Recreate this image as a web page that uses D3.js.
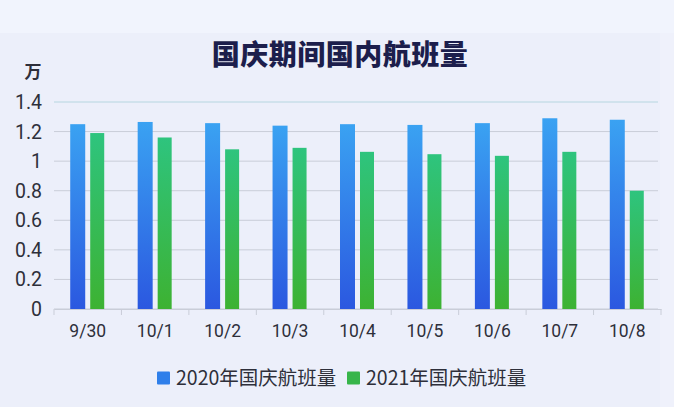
<!DOCTYPE html>
<html><head><meta charset="utf-8">
<script src="https://cdn.jsdelivr.net/npm/d3@7"></script>
<style>
html,body{margin:0;padding:0;background:#eceffa;}
svg{display:block;font-family:"Noto Sans CJK SC","Noto Sans",sans-serif;}
</style></head>
<body><svg id="c" width="674" height="407"></svg>
<script>
const categories = ["9/30","10/1","10/2","10/3","10/4","10/5","10/6","10/7","10/8"];
const values2020 = [1.25,1.265,1.257,1.24,1.25,1.245,1.257,1.29,1.28];
const values2021 = [1.19,1.16,1.08,1.09,1.063,1.047,1.036,1.063,0.80];
const seriesNames = ["2020年国庆航班量","2021年国庆航班量"];
const yTicks = [0,0.2,0.4,0.6,0.8,1,1.2,1.4];

const svg = d3.select("#c");
const W = 674, H = 407;
const m = {left:54, right:13, top:102, bottom:98};
const defs = svg.append("defs");
const g1 = defs.append("linearGradient").attr("id","gb").attr("x1",0).attr("y1",0).attr("x2",0).attr("y2",1);
g1.append("stop").attr("offset","0%").attr("stop-color","#3aa2f2");
g1.append("stop").attr("offset","100%").attr("stop-color","#2b58e0");
const g2 = defs.append("linearGradient").attr("id","gg").attr("x1",0).attr("y1",0).attr("x2",0).attr("y2",1);
g2.append("stop").attr("offset","0%").attr("stop-color","#2ec47e");
g2.append("stop").attr("offset","100%").attr("stop-color","#3db232");

svg.append("rect").attr("width",W).attr("height",H).attr("fill","#eceffa");
svg.append("rect").attr("width",W).attr("height",33).attr("fill","#f1f4fd");
svg.append("rect").attr("x",660).attr("y",33).attr("width",14).attr("height",H-33).attr("fill","#eff1fb");

const x = d3.scaleBand().domain(categories).range([m.left, W - m.right]).paddingInner(0).paddingOuter(0);
const y = d3.scaleLinear().domain([0,1.4]).range([H - m.bottom, m.top]);

// gridlines
svg.append("g").selectAll("line").data(yTicks).join("line")
  .attr("x1", m.left).attr("x2", W - m.right - 3)
  .attr("y1", d => y(d)).attr("y2", d => y(d))
  .attr("stroke", d => d === 1.4 ? "#b6d6e0" : "#c9cdd8").attr("stroke-width",1);

// y labels
svg.append("g").selectAll("text").data(yTicks).join("text")
  .attr("x", 42).attr("y", d => y(d)).attr("dy","0.36em")
  .attr("text-anchor","end").attr("font-size",19.5).attr("fill","#2e2f3a")
  .attr("font-family","Roboto, 'Noto Sans', sans-serif")
  .text(d => d3.format("~g")(d));

svg.append("text").attr("x",33).attr("y",72).attr("dy","0.36em").attr("text-anchor","middle")
  .attr("font-size",17).attr("font-weight","bold").attr("fill","#2e2f3a").text("万");

// x axis
const xAxis = svg.append("g").attr("transform",`translate(0,${y(0)})`)
  .call(d3.axisBottom(x).tickSize(0).tickPadding(16));
xAxis.select(".domain").attr("stroke","#c9cdd8");
xAxis.selectAll(".tick text").attr("font-size",17.5).attr("fill","#2e2f3a")
  .attr("font-family","Roboto, 'Noto Sans', sans-serif");
// band separator ticks
svg.append("g").selectAll("line").data(categories.concat(["_end"])).join("line")
  .attr("x1", (d,i) => m.left + i * x.bandwidth()).attr("x2", (d,i) => m.left + i * x.bandwidth())
  .attr("y1", y(0)).attr("y2", y(0) + 6).attr("stroke","#c9cdd8");

const bw = 15, gap = 5;
const bars = svg.append("g");
bars.selectAll("rect.b").data(categories).join("rect").attr("class","b")
  .attr("x", d => x(d) + x.bandwidth()/2 - gap/2 - bw)
  .attr("width", bw)
  .attr("y", (d,i) => y(values2020[i]))
  .attr("height", (d,i) => y(0) - y(values2020[i]))
  .attr("fill","url(#gb)");
bars.selectAll("rect.g").data(categories).join("rect").attr("class","g")
  .attr("x", d => x(d) + x.bandwidth()/2 + gap/2)
  .attr("width", bw - 1)
  .attr("y", (d,i) => y(values2021[i]))
  .attr("height", (d,i) => y(0) - y(values2021[i]))
  .attr("fill","url(#gg)");

// title
svg.append("text").attr("x",340).attr("y",55).attr("dy","0.36em").attr("text-anchor","middle")
  .attr("font-size",28).attr("font-weight","900").attr("letter-spacing",0.5).attr("fill","#1c1e4c").text("国庆期间国内航班量");

// legend
const legendColors = ["#2f7fea","#37b54a"];
const lg = svg.append("g").attr("transform","translate(157,378)");
const items = [{x:0},{x:190}];
items.forEach((it,i) => {
  const gi = lg.append("g").attr("transform",`translate(${it.x},0)`);
  gi.append("rect").attr("x",0).attr("y",-6.5).attr("width",13).attr("height",13).attr("rx",1).attr("fill",legendColors[i]);
  gi.append("text").attr("x",19).attr("y",0).attr("dy","0.36em").attr("font-size",19.5).attr("fill","#2e2f3a").text(seriesNames[i]);
});
</script></body></html>
